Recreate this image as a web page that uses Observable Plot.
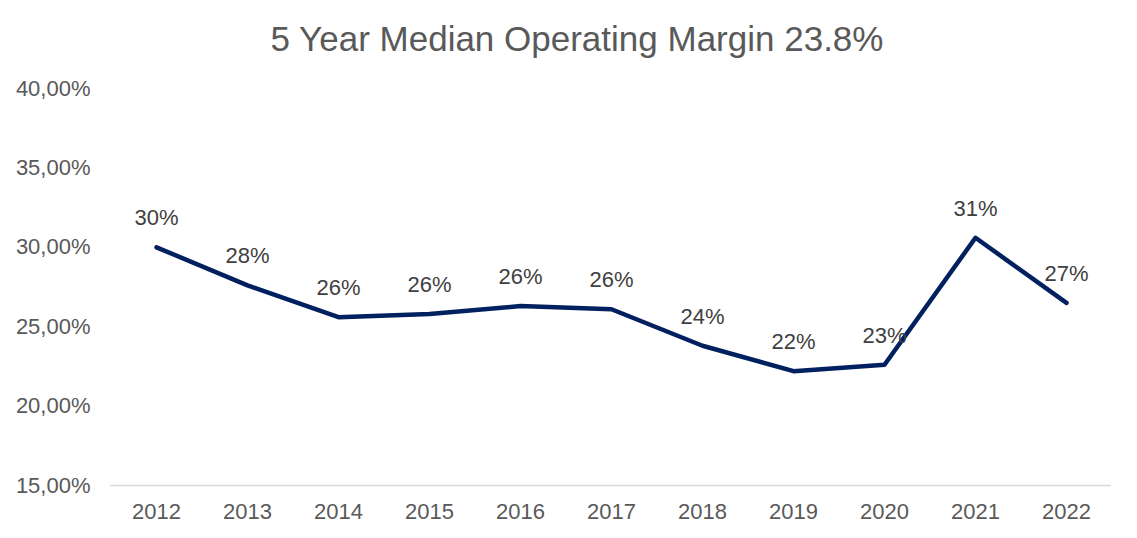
<!DOCTYPE html>
<html>
<head>
<meta charset="utf-8">
<script src="https://cdn.jsdelivr.net/npm/d3@7"></script>
<script src="https://cdn.jsdelivr.net/npm/@observablehq/plot@0.6"></script>
<style>
  html, body { margin: 0; padding: 0; background: #fff; }
  #wrap { width: 1137px; height: 538px; position: relative; overflow: hidden; }
  #title { position: absolute; left: 0; top: 21px; width: 1137px; box-sizing: border-box; padding-left: 17px;
           text-align: center; font-family: "Liberation Sans", Arial, sans-serif; font-size: 35px; line-height: 35px; color: #595959; white-space: nowrap; }
  #chart { position: absolute; left: 0; top: 70px; }
</style>
</head>
<body>
<div id="wrap">
  <div id="title">5 Year Median Operating Margin 23.8%</div>
  <div id="chart"></div>
</div>
<script>
const years = ["2012","2013","2014","2015","2016","2017","2018","2019","2020","2021","2022"];
const margins = [30.0, 27.6, 25.6, 25.8, 26.3, 26.1, 23.8, 22.2, 22.6, 30.6, 26.5];
const yTicks = [15, 20, 25, 30, 35, 40];

const data = years.map((year, i) => ({year, value: margins[i]}));

const chart = Plot.plot({
  width: 1137,
  height: 468,
  marginLeft: 110,
  marginRight: 26,
  marginTop: 18,
  marginBottom: 53,
  style: {fontFamily: "'Liberation Sans', Arial, sans-serif", fontSize: "22px", color: "#595959", background: "white", overflow: "visible"},
  x: {type: "point", domain: years, padding: 0.5, label: null},
  y: {domain: [15, 40], label: null},
  marks: [
    Plot.ruleY([15], {stroke: "#d9d9d9", strokeWidth: 1.5}),
    Plot.axisX({tickSize: 0, tickPadding: 18, fill: "#595959", label: null}),
    Plot.axisY({ticks: yTicks, tickSize: 0, tickPadding: 20, fill: "#595959", label: null,
                tickFormat: d => d.toFixed(2).replace(".", ",") + "%"}),
    Plot.line(data, {x: "year", y: "value", stroke: "#002060", strokeWidth: 4.5}),
    Plot.text(data, {x: "year", y: "value", text: d => Math.round(d.value) + "%", dy: -29, fill: "#404040", fontSize: 22})
  ]
});
document.getElementById("chart").appendChild(chart);
</script>
</body>
</html>
